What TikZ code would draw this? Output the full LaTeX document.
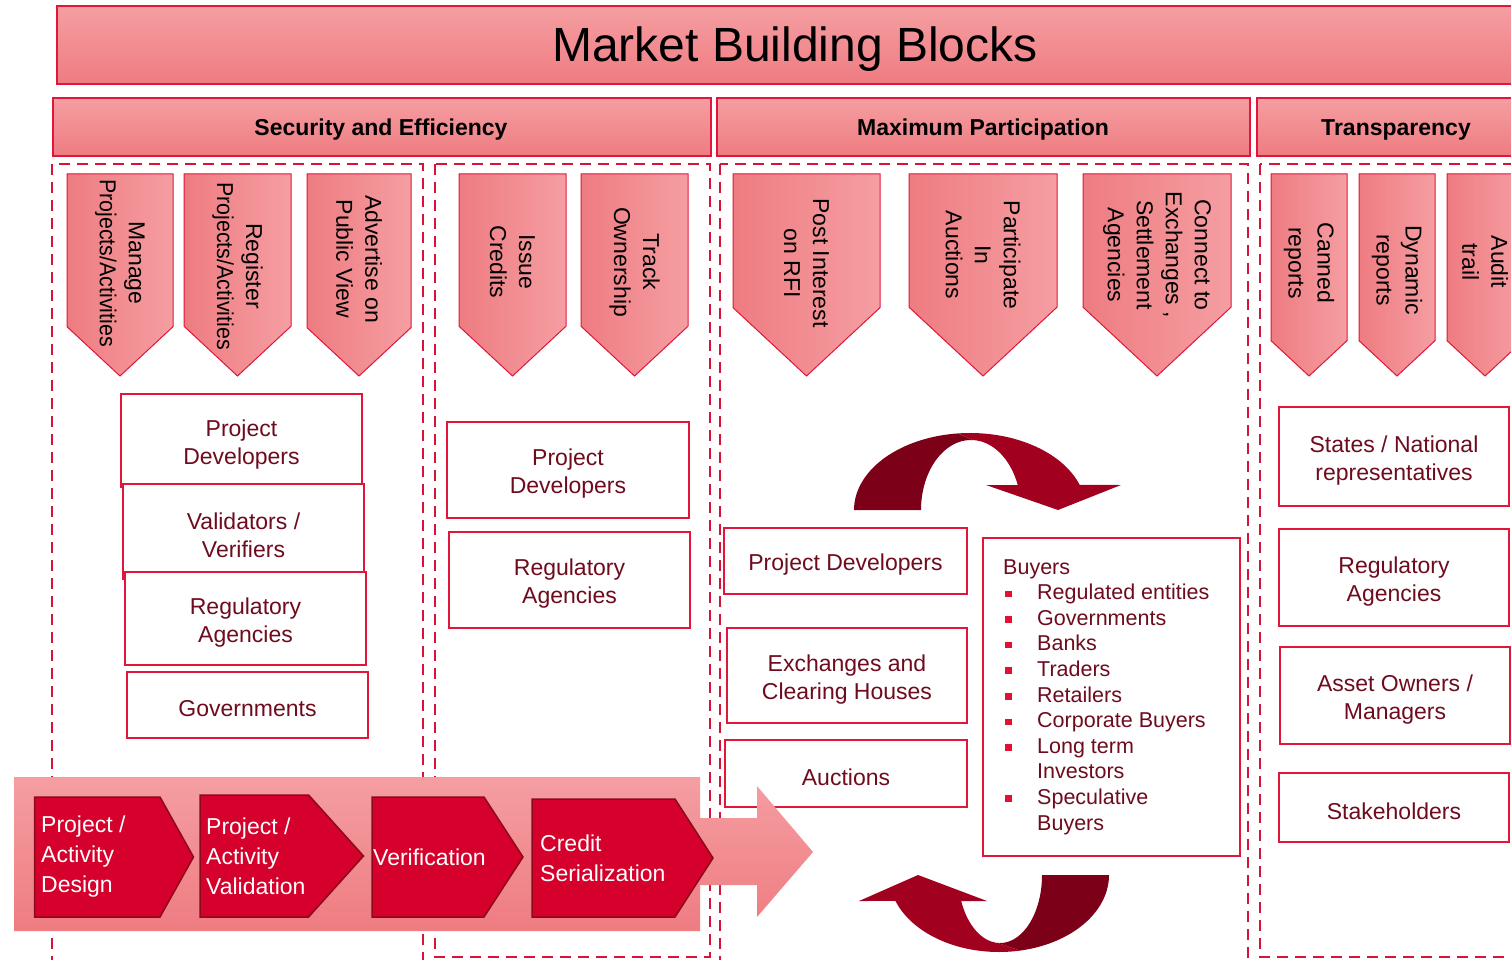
\documentclass[tikz,border=0pt]{standalone}
\usepackage{fontspec}
\setmainfont{Liberation Sans}
\definecolor{crim}{RGB}{224,22,58}
\definecolor{dashc}{RGB}{214,20,58}
\definecolor{txt}{RGB}{110,12,30}
\definecolor{pinkL}{RGB}{245,158,162}
\definecolor{pinkD}{RGB}{238,124,129}
\definecolor{procF}{RGB}{213,0,43}
\definecolor{procB}{RGB}{140,10,30}
\definecolor{arrD}{RGB}{125,0,25}
\definecolor{arrL}{RGB}{161,0,31}
\definecolor{bulred}{RGB}{226,16,50}
\tikzset{
 hdr/.style={draw=crim, line width=1.5pt, top color=pinkL, bottom color=pinkD},
 hdrtext/.style={inner sep=0pt, font=\fontsize{23}{28}\bfseries\selectfont, text=black},
 dbox/.style={draw=dashc, line width=2.6pt, dash pattern=on 11pt off 7pt},
 chevshape/.style={draw=crim, line width=1pt, left color=pinkD, right color=pinkL},
 chevtext/.style={rotate=-90, align=center, inner sep=0pt, font=\fontsize{23}{29}\selectfont, text=black},
 wbox/.style={draw=crim, line width=2.5pt, fill=white},
 boxtext/.style={align=center, inner sep=0pt, text=txt, font=\fontsize{23}{28}\selectfont},
 procshape/.style={fill=procF, draw=procB, line width=1.5pt},
 proctext/.style={anchor=west, align=left, inner sep=0pt, text=white, font=\fontsize{23}{30}\selectfont},
 buyline/.style={anchor=base west, inner sep=0pt, text=txt, font=\fontsize{21.5}{25}\selectfont},
}
\newcommand\wb[6]{\node[wbox, minimum width={#4-#2}, minimum height={#5-#3}] (#1) at ({(#2+#4)/2},{(#3+#5)/2}) {};
 \node[boxtext] (#1t) at ({(#2+#4)/2},{(#3+#5)/2+4}) {#6};}
\newcommand\dchev[5]{\path[chevshape] (#2,174) -- (#3,174) -- (#3,{376-0.465*(#3-#2)}) -- ({(#2+#3)/2},376) -- (#2,{376-0.465*(#3-#2)}) -- cycle;
 \node[chevtext] (#1) at ({(#2+#3)/2},#4) {#5};}
\newcommand\bul{\makebox[32pt][l]{\textcolor{bulred}{\rule[2.5pt]{6.5pt}{6.5pt}}}}
\begin{document}
\begin{tikzpicture}[x=1pt,y=-1pt]
\useasboundingbox (0,0) rectangle (1511,960);
\clip (0,0) rectangle (1511,960);
% dashed section boxes
\draw[dbox] (52,164) rectangle (423,990);
\draw[dbox] (435,164) rectangle (710,957);
\draw[dbox] (720,164) rectangle (1248,990);
\draw[dbox] (1260,164) rectangle (1530,957);
% title
\path[hdr] (57,6) rectangle (1530,84);
\node[inner sep=0pt, font=\fontsize{48}{56}\selectfont] (title) at (795,49) {Market Building Blocks};
% headers
\path[hdr] (53,98) rectangle (711,156);
\node[hdrtext] (h1) at (381,130) {Security and Efficiency};
\path[hdr] (717,98) rectangle (1250,156);
\node[hdrtext] (h2) at (983,130) {Maximum Participation};
\path[hdr] (1257,98) rectangle (1530,156);
\node[hdrtext] (h3) at (1396,130) {Transparency};
% chevrons
\dchev{c1}{67}{173}{263}{Manage\\\scalebox{0.93}[1]{Projects/Activities}}
\dchev{c2}{184}{291}{266}{Register\\\scalebox{0.93}[1]{Projects/Activities}}
\dchev{c3}{307}{411}{259}{Advertise on\\Public View}
\dchev{c4}{459}{566}{262}{Issue\\Credits}
\dchev{c5}{581}{688}{262}{Track\\Ownership}
\dchev{c6}{733}{880}{263}{Post Interest\\on RFI}
\dchev{c7}{909}{1057}{255}{Participate\\In\\Auctions}
\dchev{c8}{1083}{1231}{255}{Connect to\\Exchanges ,\\Settlement\\Agencies}
\dchev{c9}{1271}{1347}{263}{Canned\\reports}
\dchev{c10}{1359}{1435}{270}{Dynamic\\reports}
\dchev{c11}{1447}{1523}{262}{Audit\\trail}
% section 1 boxes
\wb{a1}{121}{394}{362}{487}{Project\\Developers}
\wb{a2}{123}{484}{364}{579}{Validators /\\Verifiers}
\wb{a3}{125}{572}{366}{665}{Regulatory\\Agencies}
\wb{a4}{127}{672}{368}{738}{Governments}
% section 2 boxes
\wb{b1}{447}{422}{689}{518}{Project\\Developers}
\wb{b2}{449}{532}{690}{628}{Regulatory\\Agencies}
% section 3 boxes
\wb{m1}{724}{528}{967}{594}{Project Developers}
\wb{m2}{727}{628}{967}{723}{Exchanges and\\Clearing Houses}
\wb{m3}{725}{740}{967}{807}{Auctions}
\node[wbox, minimum width=257, minimum height=318] (buy) at (1111.5,697) {};
\node[buyline] (by0) at (1003,574) {Buyers};
\node[buyline] (by1) at (1005,599.6) {\bul Regulated entities};
\node[buyline] (by2) at (1005,625.2) {\bul Governments};
\node[buyline] (by3) at (1005,650.8) {\bul Banks};
\node[buyline] (by4) at (1005,676.4) {\bul Traders};
\node[buyline] (by5) at (1005,702) {\bul Retailers};
\node[buyline] (by6) at (1005,727.6) {\bul Corporate Buyers};
\node[buyline] (by7) at (1005,753.2) {\bul Long term};
\node[buyline] (by8) at (1037,778.8) {Investors};
\node[buyline] (by9) at (1005,804.4) {\bul Speculative};
\node[buyline] (by10) at (1037,830) {Buyers};
% section 4 boxes
\wb{t1}{1279}{407}{1509}{506}{States / National\\representatives}
\wb{t2}{1279}{529}{1509}{626}{Regulatory\\Agencies}
\wb{t3}{1280}{647}{1510}{744}{Asset Owners /\\Managers}
\wb{t4}{1279}{773}{1509}{842}{Stakeholders}
% circular arrows (top)
\fill[arrD] plot[domain=180:96,samples=40,variable=\t] ({970+116*cos(\t)},{510-77*sin(\t)})
  -- plot[domain=88:180,samples=40,variable=\t] ({971+50*cos(\t)},{510-70*sin(\t)}) -- cycle;
\fill[arrL] plot[domain=96:19,samples=40,variable=\t] ({970+116*cos(\t)},{510-77*sin(\t)})
  -- (1121,485) -- (1058,510) -- (986,485)
  -- plot[domain=20.9:88,samples=40,variable=\t] ({971+50*cos(\t)},{510-70*sin(\t)}) -- cycle;
% circular arrows (bottom)
\fill[arrD] plot[domain=0:79,samples=40,variable=\t] ({999+110*cos(\t)},{875+77*sin(\t)})
  -- plot[domain=93:0,samples=40,variable=\t] ({1000+42*cos(\t)},{875+68*sin(\t)}) -- cycle;
\fill[arrL] plot[domain=79:160.3,samples=40,variable=\t] ({999+110*cos(\t)},{875+77*sin(\t)})
  -- (859,901) -- (918,875) -- (987,901)
  -- plot[domain=157.5:93,samples=40,variable=\t] ({1000+42*cos(\t)},{875+68*sin(\t)}) -- cycle;
% big process arrow
\path[top color=pinkL, bottom color=pinkD] (14,777) -- (700,777) -- (700,818) -- (757,818) -- (757,786) -- (813,852) -- (757,917) -- (757,885) -- (700,885) -- (700,931) -- (14,931) -- cycle;
\path[procshape] (34.5,797) -- (160,797) -- (193.5,857) -- (160,917) -- (34.5,917) -- cycle;
\node[proctext] (p1) at (41,857) {Project /\\Activity\\Design};
\path[procshape] (200,795) -- (308.6,795) -- (363.5,856) -- (308.6,917) -- (200,917) -- cycle;
\node[proctext] (p2) at (206,856) {Project /\\Activity\\Validation};
\path[procshape] (372,797) -- (484,797) -- (523,857) -- (484,917) -- (372,917) -- cycle;
\node[proctext] (p3) at (373,857) {Verification};
\path[procshape] (532,799) -- (675,799) -- (713,858) -- (675,917) -- (532,917) -- cycle;
\node[proctext] (p4) at (540,858) {Credit\\Serialization};
\end{tikzpicture}
\end{document}
